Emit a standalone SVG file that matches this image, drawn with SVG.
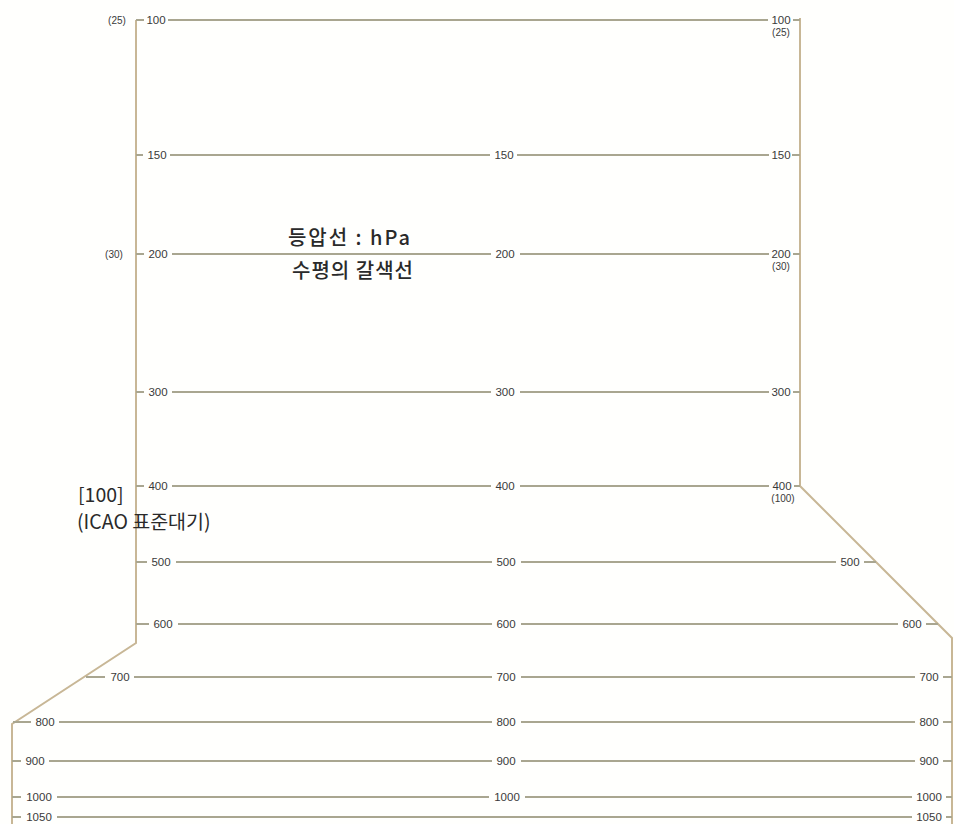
<svg xmlns="http://www.w3.org/2000/svg" width="954" height="824" viewBox="0 0 954 824">
<style>
.bg{fill:#fffffd}
.iso{stroke:#a9a690;stroke-width:2;fill:none}
.bd{stroke:#c8b796;stroke-width:2;fill:none}
.n{font-family:"Liberation Sans Narrow","Liberation Sans",Arial,sans-serif;font-size:11.5px;fill:#3a3a3a;text-anchor:middle}
.s{font-size:10px}
.t{font-family:"Noto Sans CJK KR","Noto Sans",sans-serif;font-size:20px;font-weight:500;fill:#2a2a2a;text-anchor:middle}
.t2{font-family:"Noto Sans CJK KR","Noto Sans",sans-serif;font-size:19.5px;fill:#2a2a2a}
</style>
<rect class="bg" width="954" height="824"/>
<g id="borders">
<path class="bd" d="M136,20 V643 L12,724 V824"/>
<path class="bd" d="M800,18 V486 L952,638 V824"/>
</g>
<g id="connectors">
<g id="lvl100">
<path class="iso" d="M136,20 H144 M168,20 H768 M793,20 H800"/>
</g>
<g id="lvl150">
<path class="iso" d="M136,155 H143 M170,155 H490 M517,155 H769 M792,155 H800"/>
</g>
<g id="lvl200">
<path class="iso" d="M136,254 H144 M172,254 H491 M520,254 H769 M793,254 H800"/>
</g>
<g id="lvl300">
<path class="iso" d="M136,392 H144 M172,392 H491 M520,392 H769 M793,392 H800"/>
</g>
<g id="lvl400">
<path class="iso" d="M136,486 H144 M172,486 H491 M520,486 H769 M794,486 H800"/>
</g>
<g id="lvl500">
<path class="iso" d="M136,562 H147 M176,562 H492 M521,562 H836 M864,562 H876"/>
</g>
<g id="lvl600">
<path class="iso" d="M136,624 H149 M178,624 H492 M521,624 H898 M926,624 H938"/>
</g>
<g id="lvl700">
<path class="iso" d="M86,677 H105 M134,677 H492 M521,677 H915 M943,677 H952"/>
</g>
<g id="lvl800">
<path class="iso" d="M13,722 H31 M59,722 H492 M521,722 H915 M943,722 H952"/>
</g>
<g id="lvl900">
<path class="iso" d="M12,761 H21 M49,761 H492 M521,761 H915 M943,761 H952"/>
</g>
<g id="lvl1000">
<path class="iso" d="M12,797 H21 M57,797 H489 M525,797 H912 M946,797 H952"/>
</g>
<g id="lvl1050">
<path class="iso" d="M12,817 H21 M57,817 H912 M946,817 H952"/>
</g>
</g>
<g id="labels">
<text class="n s" x="117" y="24">(25)</text>
<text class="n" x="156" y="24">100</text>
<text class="n" x="781" y="24">100</text>
<text class="n s" x="781" y="36">(25)</text>

<text class="n" x="157" y="159">150</text>
<text class="n" x="504" y="159">150</text>
<text class="n" x="781" y="159">150</text>

<text class="n s" x="114" y="258">(30)</text>
<text class="n" x="158" y="258">200</text>
<text class="n" x="505" y="258">200</text>
<text class="n" x="781" y="258">200</text>
<text class="n s" x="781" y="270">(30)</text>

<text class="n" x="158" y="396">300</text>
<text class="n" x="505" y="396">300</text>
<text class="n" x="781" y="396">300</text>

<text class="n" x="158" y="490">400</text>
<text class="n" x="505" y="490">400</text>
<text class="n" x="782" y="490">400</text>
<text class="n s" x="783" y="502">(100)</text>

<text class="n" x="161" y="566">500</text>
<text class="n" x="506" y="566">500</text>
<text class="n" x="850" y="566">500</text>

<text class="n" x="163" y="628">600</text>
<text class="n" x="506" y="628">600</text>
<text class="n" x="912" y="628">600</text>

<text class="n" x="120" y="681">700</text>
<text class="n" x="506" y="681">700</text>
<text class="n" x="929" y="681">700</text>

<text class="n" x="45" y="726">800</text>
<text class="n" x="506" y="726">800</text>
<text class="n" x="929" y="726">800</text>

<text class="n" x="35" y="765">900</text>
<text class="n" x="506" y="765">900</text>
<text class="n" x="929" y="765">900</text>

<text class="n" x="39" y="801">1000</text>
<text class="n" x="507" y="801">1000</text>
<text class="n" x="929" y="801">1000</text>

<text class="n" x="39" y="821">1050</text>
<text class="n" x="929" y="821">1050</text>
</g>
<g id="title">
<text class="t" x="350" y="245" letter-spacing="2">등압선 : hPa</text>
<text class="t" x="353" y="278" letter-spacing="1">수평의 갈색선</text>
</g>
<g id="icao">
<text class="t2" x="78" y="502">[100]</text>
<text class="t2" x="77" y="529">(ICAO 표준대기)</text>
</g>
</svg>
